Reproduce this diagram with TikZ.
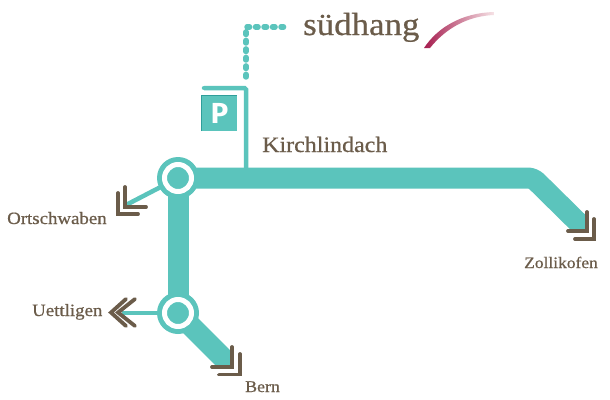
\documentclass[tikz,border=0pt]{standalone}
\usepackage{fontspec}
\setmainfont{Liberation Serif}[FakeStretch=1.09,FakeBold=0.6]
\newfontfamily\signfont{Fira Sans}
\definecolor{teal1}{HTML}{5BC4BC}
\definecolor{teal2}{HTML}{2F9E9A}
\definecolor{brownc}{HTML}{6B5C4A}
\definecolor{wineA}{HTML}{A51C4E}
\definecolor{wineB}{HTML}{F6E3E6}
\tikzset{
  trunk/.style={draw=teal1,line width=21pt},
  branch/.style={draw=teal1,line width=4.5pt},
  dots/.style={draw=teal1,line width=5.4pt,line cap=round,dash pattern=on 2.6pt off 5.9pt},
  chev/.style={draw=brownc,line width=3.8pt,line cap=round,miter limit=10},
  lab/.style={text=brownc,inner sep=0pt,anchor=base west,font=\fontsize{17.3}{17}\selectfont},
  stationouter/.style={circle,fill=teal1,minimum size=42pt,inner sep=0pt},
  stationring/.style={circle,draw=white,line width=5pt,fill=teal1,minimum size=27pt,inner sep=0pt},
}
\begin{document}
\begin{tikzpicture}[x=1pt,y=-1pt]
\useasboundingbox (0,0) rectangle (610,399);
\fill[white] (0,0) rectangle (610,399);
% junction points
\coordinate (J1) at (178,178);
\coordinate (J2) at (178,313);
\coordinate (Zend) at (600,244);
\coordinate (Bend) at (245,380);
\coordinate (Oend) at (126,205);
\coordinate (Uend) at (122,313);
\coordinate (Pfoot) at (246,178);
\coordinate (Ptop) at (246,88);
\coordinate (Pleft) at (204,88);
\coordinate (Dstart) at (246,77);
\coordinate (Dcorner) at (246,27);
\coordinate (Dend) at (289,27);
% trunk lines
\begin{scope}
\clip (100,100) rectangle (587,231);
\draw[trunk,line join=round,rounded corners=5pt] (J1) -- (533,178) -- (Zend);
\end{scope}
\draw[trunk] (J1) -- (J2);
\begin{scope}
\clip (100,250) rectangle (232,367);
\draw[trunk] (J2) -- (Bend);
\end{scope}
% thin branches
\draw[branch] (J1) -- (Oend);
\draw[branch] (J2) -- (Uend);
\draw[branch,rounded corners=1.5pt] (Pfoot) -- (Ptop) -- (Pleft);
\draw[draw=teal1,line width=4.5pt,line cap=round] (210,88) -- (Pleft);
\draw[dots] (Dstart) -- (Dcorner) -- (Dend);
% stations
\node[stationouter] (S1) at (J1) {};
\node[stationring] (R1) at (J1) {};
\node[stationouter] (S2) at (J2) {};
\node[stationring] (R2) at (J2) {};
% parking sign
\node[fill=teal1,minimum size=35pt,inner sep=0pt,text=white,font=\signfont\bfseries\fontsize{29}{29}\selectfont] (P) at (219.5,113.5) {P};
\draw[teal2,line width=0.9pt] (P.south west) -- (P.north west) -- (P.north east);
% chevrons
\draw[chev] (125,187) -- (125,207) -- (146,207);
\draw[chev] (118,193) -- (118,214) -- (138,214);
\draw[chev] (135,299) -- (118,312.5) -- (135,326);
\draw[chev] (126,299) -- (111,312.5) -- (126,326);
\draw[chev] (232,347) -- (232,367) -- (212,367);
\draw[chev] (240,354) -- (240,374.5) -- (219,374.5);
\draw[chev] (587,212) -- (587,231) -- (568,231);
\draw[chev] (594,219) -- (594,239) -- (575,239);
% labels
\node[lab,font=\fontsize{22}{22}\selectfont] (kl) at (262,152) {Kirchlindach};
\node[lab] (ow) at (7,224) {Ortschwaben};
\node[lab] (ue) at (32,316) {Uettligen};
\node[lab,font=\fontsize{16.4}{17}\selectfont] (be) at (245,392) {Bern};
\node[lab,font=\fontsize{16}{17}\selectfont] (zo) at (524,268) {Zollikofen};
\node[lab,font=\fontsize{32}{32}\selectfont] (su) at (303,35) {südhang};
% swoosh
\shade[left color=wineA,right color=wineB]
  (424,48) .. controls (438,27) and (462,13) .. (494,12) -- (494,15) .. controls (468,16) and (446,28) .. (430,48) -- cycle;
\end{tikzpicture}
\end{document}
